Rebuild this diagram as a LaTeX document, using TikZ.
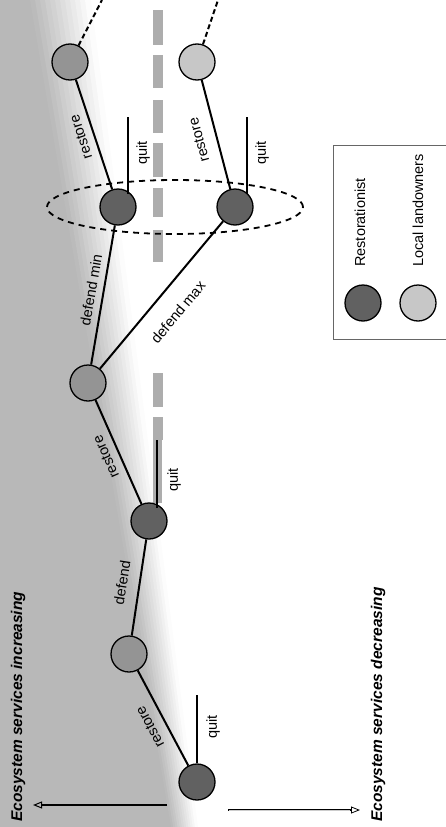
\documentclass[tikz,border=0pt]{standalone}
\usepackage{fontspec}
\setmainfont{Liberation Sans}
\usetikzlibrary{arrows.meta,shapes.geometric}
\begin{document}
\begin{tikzpicture}[x=1pt,y=-1pt,
  rnode/.style={circle,draw=black,line width=1.3pt,minimum size=36pt,inner sep=0pt},
  dark/.style={rnode,fill=black!62},
  mid/.style={rnode,fill=black!42},
  light/.style={rnode,fill=black!22},
  conn/.style={line width=2pt},
  lbl/.style={font=\fontsize{14.5}{16}\selectfont,inner sep=0pt},
  axis/.style={font=\fontsize{15.5}{18}\selectfont\itshape\bfseries,inner sep=0pt,rotate=90,anchor=west},
  bandcol/.style={fill=black!32,draw=none},
]
\useasboundingbox (0,0) rectangle (445,827);
% background stipple region
\fill[black!28] (0,0) -- (31,0) -- (172,827) -- (0,827) -- cycle;
\foreach \i in {0,...,11}{
  \pgfmathsetmacro\ta{30+60*\i/12}
  \pgfmathsetmacro\tb{31+60*(\i+1)/12}
  \pgfmathsetmacro\ba{171+26*\i/12}
  \pgfmathsetmacro\bb{172+26*(\i+1)/12}
  \pgfmathsetmacro\c{28*(1-(\i+0.5)/12)}
  \fill[black!\c] (\ta,0) -- (\tb,0) -- (\bb,827) -- (\ba,827) -- cycle;
}
% grey dashed band
\foreach \a/\b in {10/45,55/88,100/133,143/177,188/217,230/262,373/407,417/440}
  \fill[bandcol] (153,\a) rectangle (163,\b);
\fill[bandcol] (153,440) rectangle (162,503);
% grouping ellipse
\node[draw,ellipse,line width=1.8pt,dash pattern=on 6pt off 5pt,minimum width=256pt,minimum height=54pt,inner sep=0pt] (grp) at (175,207) {};
% nodes
\node[mid]   (n1) at (70,62) {};
\node[light] (n2) at (197,62) {};
\node[dark]  (n3) at (118,207) {};
\node[dark]  (n4) at (235,207) {};
\node[mid]   (n5) at (88,383) {};
\node[dark]  (n6) at (149,521) {};
\node[mid]   (n7) at (129,654) {};
\node[dark]  (n8) at (197,782) {};
% connectors
\draw[conn] (n1) -- (n3);
\draw[conn] (n2) -- (n4);
\draw[conn] (n5) -- (n3);
\draw[conn] (n5) -- (n4);
\draw[conn] (n5) -- (n6);
\draw[conn] (n6) -- (n7);
\draw[conn] (n7) -- (n8);
\coordinate (t1) at (102,0);
\coordinate (t2) at (218,0);
\draw[conn,dash pattern=on 5pt off 3pt] (n1) -- (t1);
\draw[conn,dash pattern=on 5pt off 3pt] (n2) -- (t2);
% quit lines
\coordinate (q1) at (128,117);
\coordinate (q2) at (247,117);
\coordinate (q3) at (157,440);
\coordinate (q4) at (197,695);
\draw[conn] (q1) -- (q1 |- n3.north east);
\draw[conn] (q2) -- (q2 |- n4.north east);
\draw[conn] (q3) -- (q3 |- n6.north east);
\draw[conn] (q4) -- (q4 |- n8.north);
% labels
\node[lbl,rotate=108] (l1) at (81,137) {restore};
\node[lbl,rotate=90]  (l2) at (143,153) {quit};
\node[lbl,rotate=105] (l3) at (199,140) {restore};
\node[lbl,rotate=90]  (l4) at (262,153) {quit};
\node[lbl,rotate=80]  (l5) at (91,290) {defend min};
\node[lbl,rotate=50]  (l6) at (178,312) {defend max};
\node[lbl,rotate=114] (l7) at (106,457) {restore};
\node[lbl,rotate=90]  (l8) at (174,480) {quit};
\node[lbl,rotate=81]  (l9) at (122,583) {defend};
\node[lbl,rotate=118] (l10) at (150,727) {restore};
\node[lbl,rotate=90]  (l11) at (213,727) {quit};
% legend
\draw[black!60,line width=0.7pt] (333,145) rectangle (447,339);
\node[dark]  (lr) at (363,303) {};
\node[light] (ll) at (418,303) {};
\node[lbl,rotate=90,anchor=west] (lrt) at (360,267) {Restorationist};
\node[lbl,rotate=90,anchor=west] (llt) at (418,267) {Local landowners};
% axis arrows and texts
\node[axis] (inc) at (18,822) {Ecosystem services increasing};
\node[axis] (dec) at (378,822) {Ecosystem services decreasing};
\coordinate (al1) at (167,805);
\coordinate (al2) at (33,805);
\draw[line width=2.6pt,-{Triangle[open,length=9pt,width=7pt,line width=1pt]}] (al1) -- (al2);
\coordinate (ar1) at (228,810);
\coordinate (ar2) at (360,810);
\draw[line width=2.4pt,-{Triangle[open,length=9pt,width=7pt,line width=0.8pt]}] (ar1) -- (ar2);
\draw[line width=0.9pt,black!20,shorten >=10pt,shorten <=1pt] (ar1) -- (ar2);
\end{tikzpicture}
\end{document}
